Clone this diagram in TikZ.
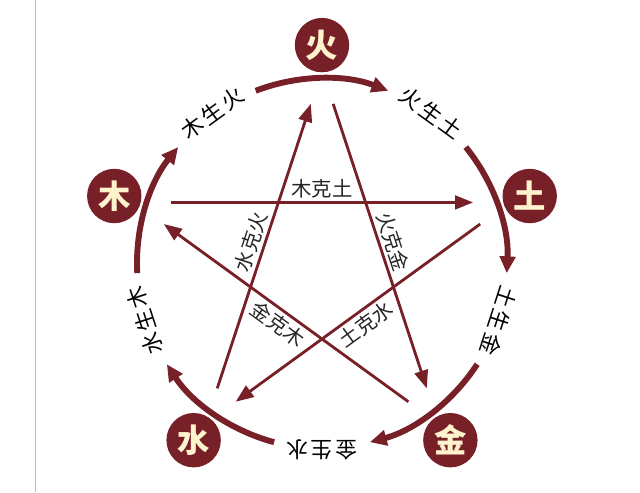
\documentclass[tikz,border=0pt]{standalone}
\usepackage{fontspec}
\setmainfont{Noto Sans CJK SC}
\newfontfamily\shengfont[LetterSpace=12]{Noto Sans CJK SC}
\usetikzlibrary{arrows.meta}
\definecolor{wxred}{RGB}{120,32,40}
\definecolor{wxcream}{RGB}{255,243,205}

\begin{document}
\begin{tikzpicture}[
        element/.style={circle,fill=wxred,text=wxcream,minimum size=1.36cm,inner sep=0pt,font=\bfseries\fontsize{23}{23}\selectfont},
        shengarc/.style={wxred,line width=4.2pt,-{Triangle[length=0.42cm,width=0.38cm]}},
        kearrow/.style={wxred,line width=2pt,-{Triangle[length=0.45cm,width=0.34cm]}},
        shenglabel/.style={font=\shengfont\fontsize{15.5}{15.5}\selectfont,inner sep=0pt},
        kelabel/.style={text=black!85,inner sep=2pt,font=\fontsize{14.5}{14.5}\selectfont}]
    \useasboundingbox (-8.05,-5.7125) rectangle (7.95,6.5875);
    \draw[black!25,line width=0.6pt] (-7.175,-5.7125) -- (-7.175,6.5875);

    % the five elements
    \node[element] (huo) at (90:5.46) {火};
    \node[element] (tu) at (18:5.46) {土};
    \node[element] (jin) at (-54:5.46) {金};
    \node[element] (shui) at (234:5.46) {水};
    \node[element] (mu) at (162:5.46) {木};

    % generating cycle
    \coordinate (sheng-huo) at (111:4.625);
    \coordinate (sheng-tu) at (39:4.625);
    \coordinate (sheng-jin) at (-33:4.625);
    \coordinate (sheng-shui) at (255:4.625);
    \coordinate (sheng-mu) at (183:4.625);
    \draw[shengarc] (sheng-huo) arc[start angle=111,end angle=69,radius=4.625];
    \draw[shengarc] (sheng-tu) arc[start angle=39,end angle=-3,radius=4.625];
    \draw[shengarc] (sheng-jin) arc[start angle=-33,end angle=-75,radius=4.625];
    \draw[shengarc] (sheng-shui) arc[start angle=255,end angle=213,radius=4.625];
    \draw[shengarc] (sheng-mu) arc[start angle=183,end angle=141,radius=4.625];

    \node[shenglabel,rotate=36] (muhuo) at (126:4.65) {木生火};
    \node[shenglabel,rotate=-36] (huotu) at (54:4.65) {火生土};
    \node[shenglabel,rotate=-108] (tujin) at (-18:4.65) {土生金};
    \node[shenglabel,rotate=180] (jinshui) at (-90:4.65) {金生水};
    \node[shenglabel,rotate=108] (shuimu) at (198:4.65) {水生木};

    % overcoming cycle
    \coordinate (ke-mu-a) at (158:4.075);
    \coordinate (ke-mu-b) at (22:4.075);
    \coordinate (ke-huo-a) at (86:4.0);
    \coordinate (ke-huo-b) at (-50:4.075);
    \coordinate (ke-tu-a) at (14:4.075);
    \coordinate (ke-tu-b) at (238:4.075);
    \coordinate (ke-jin-a) at (-58:4.075);
    \coordinate (ke-jin-b) at (166:4.075);
    \coordinate (ke-shui-a) at (230:4.075);
    \coordinate (ke-shui-b) at (94:4.0);

    \draw[kearrow] (ke-mu-a) -- node[kelabel,sloped,above] (mutu) {木克土} (ke-mu-b);
    \draw[kearrow] (ke-huo-a) -- node[kelabel,sloped,above] (huojin) {火克金} (ke-huo-b);
    \draw[kearrow] (ke-tu-a) -- node[kelabel,sloped,below] (tushui) {土克水} (ke-tu-b);
    \draw[kearrow] (ke-jin-a) -- node[kelabel,sloped,below] (jinmu) {金克木} (ke-jin-b);
    \draw[kearrow] (ke-shui-a) -- node[kelabel,sloped,above] (shuihuo) {水克火} (ke-shui-b);
\end{tikzpicture}
\end{document}
